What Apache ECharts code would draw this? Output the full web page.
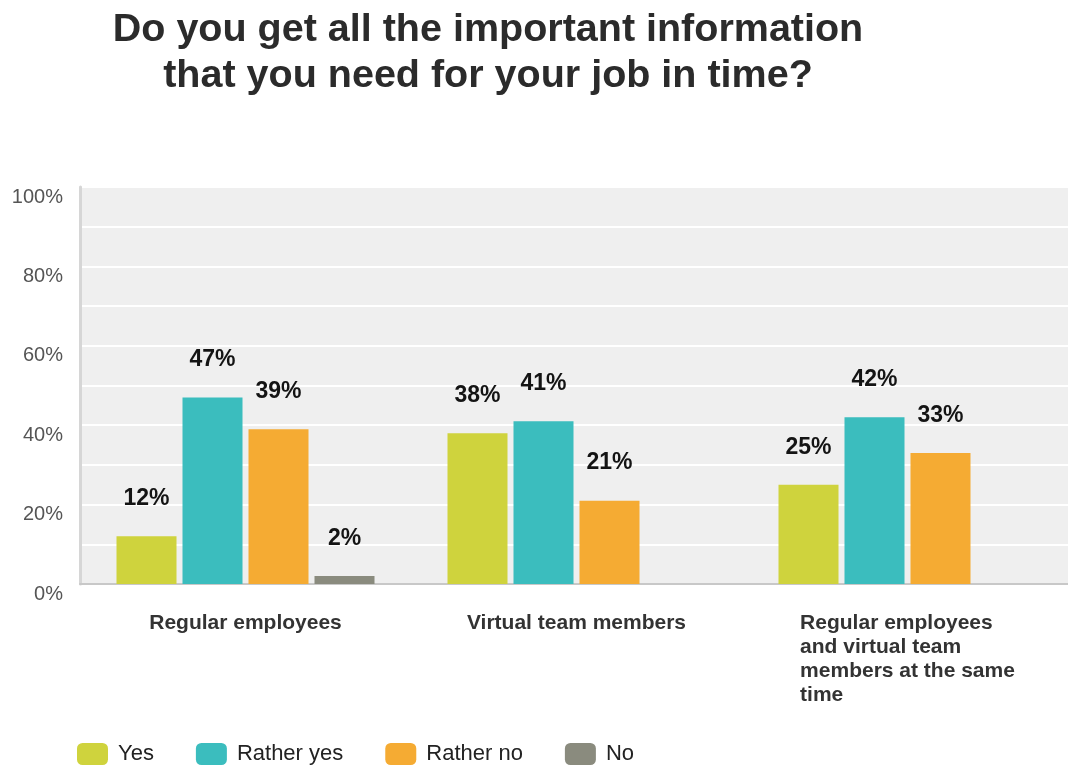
<!DOCTYPE html>
<html>
<head>
<meta charset="utf-8">
<script src="https://cdn.jsdelivr.net/npm/echarts@6/dist/echarts.min.js"></script>
<style>
  html, body { margin: 0; padding: 0; background: #ffffff; }
  #chart { width: 1068px; height: 767px; }
</style>
</head>
<body>
<div id="chart"></div>
<script>
// Survey question and answer groups
const titleText = 'Do you get all the important information\nthat you need for your job in time?';
const categories = [
  'Regular employees',
  'Virtual team members',
  'Regular employees\nand virtual team\nmembers at the same\ntime'
];
const seriesNames = ['Yes', 'Rather yes', 'Rather no', 'No'];

// Share of answers (%) per group
const yesValues = [12, 38, 25];
const ratherYesValues = [47, 41, 42];
const ratherNoValues = [39, 21, 33];
const noValues = [2, null, null];

const yTicks = [0, 20, 40, 60, 80, 100];

const colors = ['#cfd33d', '#3bbdbe', '#f5ab33', '#8a8b7e'];
const FONT = '"Liberation Sans", Arial, Helvetica, sans-serif';

const chart = echarts.init(document.getElementById('chart'), null, { renderer: 'canvas' });

function barSeries(name, values, color) {
  return {
    name: name,
    type: 'bar',
    data: values,
    barWidth: 60,
    barGap: '10%',
    itemStyle: { color: color },
    label: {
      show: true,
      position: 'top',
      distance: 26,
      formatter: p => (p.value == null ? '' : p.value + '%'),
      fontFamily: FONT,
      fontWeight: 'bold',
      fontSize: 23,
      color: '#141414'
    }
  };
}

chart.setOption({
  backgroundColor: '#ffffff',
  animation: false,
  color: colors,
  title: {
    text: titleText,
    left: 483,
    top: 2,
    textAlign: 'center',
    textStyle: {
      fontFamily: FONT,
      fontWeight: 'bold',
      fontSize: 39.5,
      lineHeight: 46,
      color: '#2b2b2b'
    }
  },
  legend: {
    data: seriesNames,
    left: 77,
    top: 743,
    padding: 0,
    itemWidth: 31,
    itemHeight: 22,
    itemGap: 42,
    icon: 'roundRect',
    textStyle: {
      fontFamily: FONT,
      fontSize: 22,
      color: '#222222',
      padding: [0, 0, 0, 5]
    }
  },
  grid: {
    left: 80,
    top: 187,
    width: 993,
    height: 397,
    outerBoundsMode: 'none',
    show: true,
    backgroundColor: '#efefef',
    borderWidth: 0
  },
  xAxis: {
    type: 'category',
    data: categories,
    axisLine: { show: true, lineStyle: { color: '#c8c8c8', width: 2 } },
    axisTick: { show: false },
    axisLabel: {
      interval: 0,
      margin: 27,
      formatter: v => v.split('\n').map(s => '{a|' + s + '}').join('\n'),
      rich: {
        a: {
          align: 'left',
          fontFamily: FONT,
          fontWeight: 'bold',
          fontSize: 21,
          lineHeight: 24,
          color: '#333333'
        }
      }
    }
  },
  yAxis: {
    type: 'value',
    min: 0,
    max: 100,
    interval: 10,
    axisLine: { show: true, lineStyle: { color: '#d6d6d6', width: 3 } },
    axisTick: { show: false },
    splitLine: { show: true, lineStyle: { color: '#ffffff', width: 2 } },
    axisLabel: {
      margin: 17,
      verticalAlign: 'top',
      formatter: v => (yTicks.indexOf(v) >= 0 ? v + '%' : ''),
      fontFamily: FONT,
      fontSize: 20,
      color: '#555555'
    }
  },
  series: [
    barSeries(seriesNames[0], yesValues, colors[0]),
    barSeries(seriesNames[1], ratherYesValues, colors[1]),
    barSeries(seriesNames[2], ratherNoValues, colors[2]),
    barSeries(seriesNames[3], noValues, colors[3])
  ]
});
</script>
</body>
</html>
